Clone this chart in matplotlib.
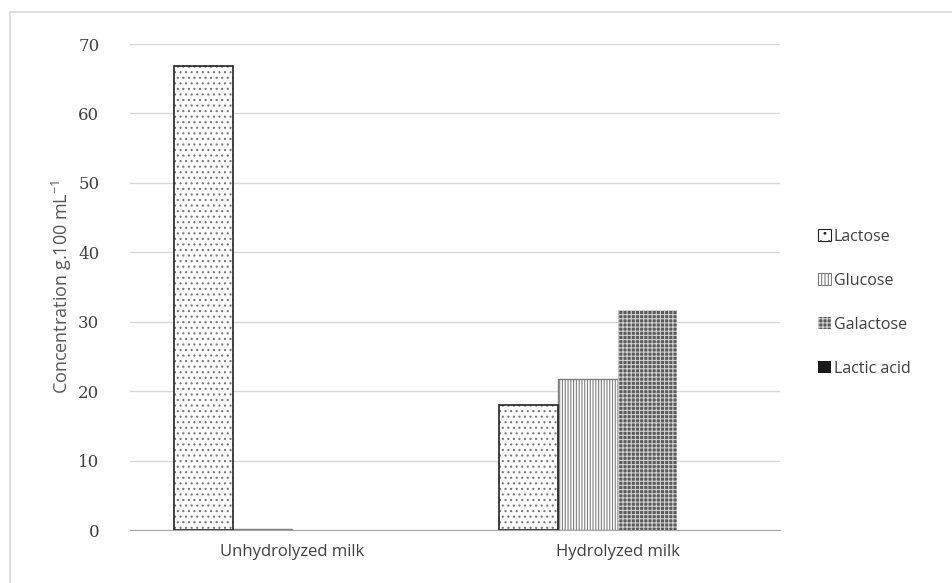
import numpy as np
import matplotlib.pyplot as plt
from matplotlib.patches import Rectangle, Patch

categories = ['Unhydrolyzed milk', 'Hydrolyzed milk']
series = ['Lactose', 'Glucose', 'Galactose', 'Lactic acid']
lactose = [66.8, 18.0]
glucose = [0.2, 21.8]
galactose = [0.0, 31.7]
lactic_acid = [0.0, 0.0]

plt.rcParams['hatch.linewidth'] = 0.8

fig = plt.figure(figsize=(9.53, 5.83), dpi=100)
ax = fig.add_axes([0.1364, 0.0909, 0.6821, 0.8336])

# outer chart frame
fig.patches.append(Rectangle((0.0105, -0.1), 1.2, 1.079, transform=fig.transFigure,
                             fill=False, edgecolor='#d9d9d9', lw=1.2))

x = np.arange(len(categories))
w = 1 / 5.5
offs = (np.arange(4) - 1.5) * w

# lactose: grey dots + black outline
ax.bar(x + offs[0], lactose, w, facecolor='white', edgecolor='#777777', hatch='...', lw=0, zorder=3)
ax.bar(x + offs[0], lactose, w, fill=False, edgecolor='#222222', lw=1.2, zorder=4)
# glucose: vertical lines
ax.bar(x + offs[1], glucose, w, facecolor='white', edgecolor='#7f7f7f', hatch='||||||', lw=1.0, zorder=3)
# galactose: dark checker
ax.bar(x + offs[2], galactose, w, facecolor='#5a5a5a', edgecolor='#d0d0d0', hatch='++++', lw=0, zorder=3)
# lactic acid: solid black
ax.bar(x + offs[3], lactic_acid, w, facecolor='#1a1a1a', edgecolor='#1a1a1a', lw=0, zorder=3)

ax.set_xlim(-0.5, 1.5)
ax.set_ylim(0, 70)
ax.set_yticks(np.arange(0, 71, 10))
ax.grid(axis='y', color='#d9d9d9', lw=1)
ax.set_axisbelow(True)
for s in ['left', 'top', 'right']:
    ax.spines[s].set_visible(False)
ax.spines['bottom'].set_color('#a6a6a6')
ax.tick_params(length=0)
ax.tick_params(axis='y', pad=22)
ax.set_xticks(x)
ax.set_xticklabels(categories, fontsize=12, color='#404040', family='Open Sans')
for t in ax.get_yticklabels():
    t.set_family('DejaVu Serif')
    t.set_fontsize(12)
    t.set_color('#404040')
ax.tick_params(axis='x', pad=10)
ax.set_ylabel('Concentration g.100 mL$^{\\mathregular{-1}}$', fontsize=13, color='#595959',
              family='Open Sans', labelpad=3)

handles = [
    Patch(facecolor='white', edgecolor='#222222', hatch='..', lw=0.8),
    Patch(facecolor='white', edgecolor='#7f7f7f', hatch='|||||', lw=0.8),
    Patch(facecolor='#5a5a5a', edgecolor='#d0d0d0', hatch='++++', lw=0),
    Patch(facecolor='#1a1a1a', edgecolor='#1a1a1a', lw=0),
]
leg = fig.legend(handles, series, loc='center left', bbox_to_anchor=(0.843, 0.481),
                 frameon=False, handlelength=0.8, handleheight=0.8, handletextpad=0.2,
                 labelspacing=1.75, prop={'family': 'Open Sans', 'size': 11.5})
for t in leg.get_texts():
    t.set_color('#404040')

fig.savefig('out.png', dpi=100)
